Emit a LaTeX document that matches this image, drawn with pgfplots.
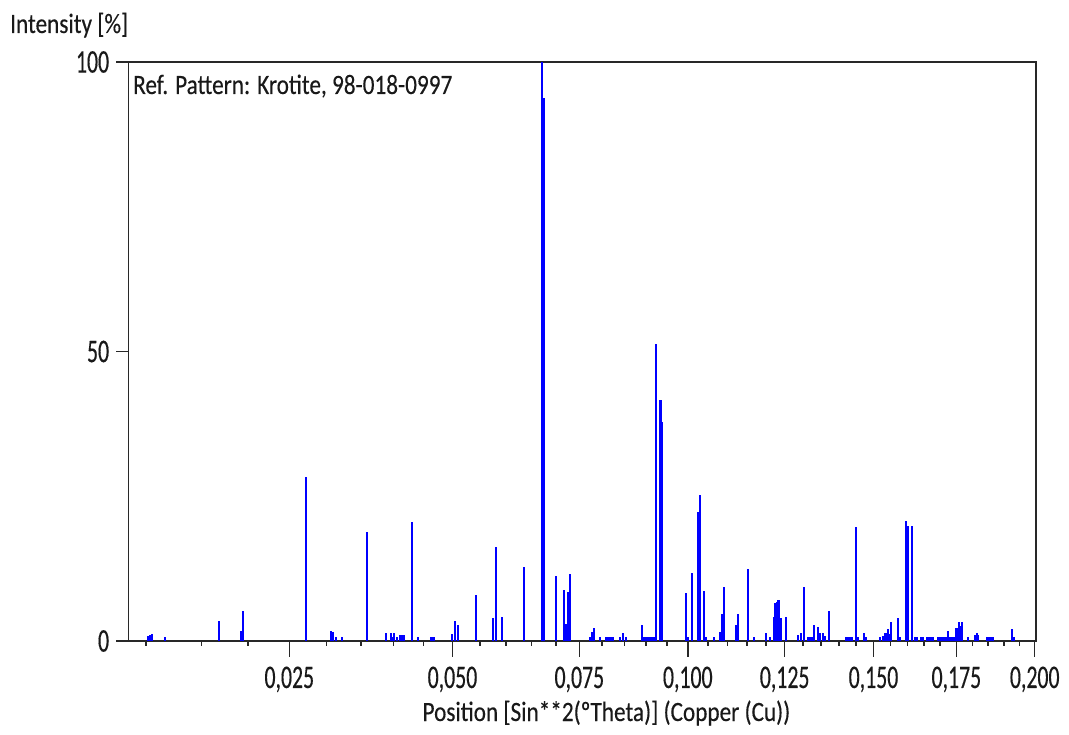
\documentclass[border=0pt]{standalone}
\usepackage{fontspec}
\setmainfont{Carlito}[FakeStretch=0.83, FakeBold=0.3]
\newfontfamily\tickfont{Carlito}[FakeStretch=0.66, FakeBold=0.3]
\usepackage{pgfplots}
\usepackage{pgfplotstable}
\pgfplotsset{compat=1.18}
\definecolor{peakblue}{RGB}{0,0,255}
\definecolor{framegray}{RGB}{40,40,40}

% Reference pattern lines: position in 2theta (deg, Cu K-alpha), relative intensity (%)
\pgfplotstableread{
tth I
11.586 0.9
11.666 1.0
11.746 1.2
12.369 0.7
14.914 3.5
15.917 1.8
16.039 5.2
18.954 28.4
20.149 1.8
20.243 1.5
20.369 0.7
20.641 0.7
21.850 18.8
22.703 1.4
22.947 1.4
23.041 0.7
23.102 1.4
23.228 0.7
23.383 1.0
23.476 1.0
23.570 1.0
23.931 20.5
24.203 0.7
24.836 0.7
24.930 0.7
24.990 0.7
25.806 1.2
25.960 3.5
26.078 2.8
26.931 8.0
27.756 3.9
27.868 16.3
28.149 4.2
29.171 12.8
30.038 100
30.100 93.8
30.130 93.8
30.680 11.2
31.046 8.8
31.130 2.9
31.170 2.9
31.242 8.4
31.350 11.5
32.288 0.7
32.381 1.6
32.475 2.2
32.756 0.7
33.023 0.7
33.080 0.7
33.131 0.7
33.190 0.7
33.248 0.7
33.300 0.7
33.351 0.7
33.694 0.7
33.848 1.4
33.961 0.7
34.711 2.8
34.795 0.7
34.850 0.7
34.912 0.7
34.970 0.7
35.029 0.7
35.090 0.7
35.146 0.7
35.200 0.7
35.264 0.7
35.334 0.7
35.381 51.3
35.568 41.6
35.620 41.6
35.671 37.8
36.787 8.3
36.866 0.7
37.058 11.8
37.349 22.2
37.400 22.2
37.452 25.3
37.644 8.7
37.724 0.7
38.099 0.7
38.380 1.6
38.483 4.6
38.577 9.4
39.116 2.8
39.214 4.6
39.706 12.5
39.987 0.7
40.536 1.4
40.733 0.7
40.925 4.2
40.980 6.6
41.042 6.7
41.100 7.0
41.136 7.0
41.216 3.9
41.474 4.2
42.050 1.0
42.154 1.4
42.327 9.4
42.505 0.7
42.599 0.7
42.679 0.7
42.786 2.8
42.974 2.5
43.068 1.4
43.185 1.4
43.301 0.9
43.466 5.2
44.286 0.7
44.380 0.7
44.473 0.7
44.553 0.7
44.769 19.7
44.862 0.7
45.139 1.4
45.238 0.7
45.879 0.7
45.996 0.9
46.113 1.4
46.184 1.4
46.245 2.1
46.301 1.2
46.381 3.2
46.737 3.9
46.830 0.7
47.097 20.8
47.160 19.9
47.205 19.9
47.393 19.9
47.496 0.7
47.613 0.7
47.801 0.7
47.908 0.7
48.082 0.7
48.150 0.7
48.223 0.7
48.300 0.7
48.378 0.7
48.612 0.7
48.675 0.7
48.738 0.7
48.800 0.7
48.879 0.7
48.972 0.7
49.030 0.7
49.080 1.8
49.140 0.7
49.207 0.7
49.250 0.7
49.300 0.7
49.394 0.7
49.455 2.2
49.510 2.2
49.568 3.2
49.638 2.6
49.700 2.6
49.736 3.2
50.018 0.7
50.331 1.0
50.402 1.4
50.472 1.0
50.880 0.7
50.988 0.7
51.040 0.7
51.082 0.7
51.189 0.7
52.080 2.1
52.169 0.7
}\peaks

\begin{document}
\begin{tikzpicture}[font=\fontsize{28bp}{32bp}\selectfont, text=black!90]
\path[use as bounding box] (-128.3bp,-94bp) rectangle (940.7bp,641bp);
\begin{axis}[
  at={(0,0)}, anchor=south west, scale only axis,
  width=907.7bp, height=579bp,
  xmin=10.649, xmax=53.19, ymin=0, ymax=100,
  axis line style={draw=framegray, line width=1.5bp},
  tick align=outside, xtick pos=bottom, ytick pos=left,
  major tick length=16bp, minor tick length=5bp,
  tick style={draw=framegray, line width=1.5bp},
  % sin^2(theta) tick values placed at their 2theta positions
  xtick={18.195,25.842,31.788,36.870,41.410,45.573,49.458,53.130},
  xticklabels={{0,025},{0,050},{0,075},{0,100},{0,125},{0,150},{0,175},{0,200}},
  minor xtick={11.478,14.070,16.260,19.948,21.565,23.074,24.495,27.127,28.355,29.541,30.683,32.860,33.901,34.915,35.904,37.814,38.739,39.646,40.536,42.268,43.111,43.946,44.765,46.371,47.156,47.931,48.700,50.208,50.951,51.683,52.411},
  xticklabel style={font=\tickfont\fontsize{33bp}{36bp}\selectfont, anchor=base, inner sep=0pt, yshift=-31bp},
  ytick=\empty,
  xlabel={Position [Sin**2(ºTheta)] (Copper (Cu))},
  xlabel style={at={(axis description cs:0.5268,-0.1382)}, anchor=base, inner sep=0pt},
]
\addplot[ycomb, draw=peakblue, line width=2bp, mark=none] table[x=tth, y=I] {\peaks};
\end{axis}
% intensity ticks with their own tick length
\begin{axis}[
  at={(0,0)}, anchor=south west, scale only axis,
  width=907.7bp, height=579bp,
  xmin=10.649, xmax=53.19, ymin=0, ymax=100,
  axis line style={draw=none},
  tick align=outside, ytick pos=left,
  major tick length=12bp,
  tick style={draw=framegray, line width=1.5bp},
  xtick=\empty,
  ytick={0,50,100}, yticklabels={0,50,100},
  yticklabel style={font=\tickfont\fontsize{33bp}{36bp}\selectfont, anchor=east, inner sep=0pt, xshift=-7bp},
]
\addplot[draw=none] coordinates {(20,0)};
\end{axis}
\node[anchor=base west, inner sep=0pt] at (-118.3bp,608bp) {Intensity [\%]};
\node[anchor=base west, inner sep=0pt] at (4.7bp,547bp) {Ref. Pattern: Krotite, 98-018-0997};
\end{tikzpicture}
\end{document}
